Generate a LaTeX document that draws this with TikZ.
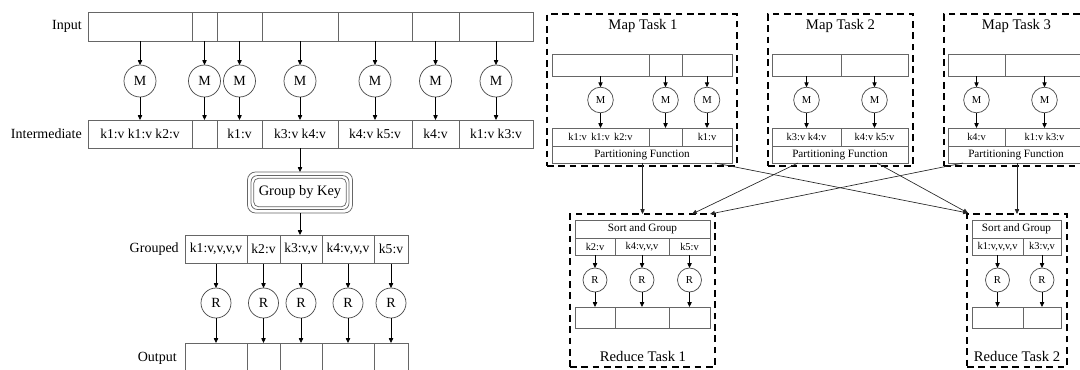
\documentclass[tikz,border=0pt]{standalone}
\usepackage{fontspec}
\setmainfont{Liberation Serif}
\usetikzlibrary{arrows.meta,calc}
\newcommand\fsz[1]{\fontsize{#1}{#1}\selectfont}
\newcommand\mycell[7]{\node[cell,#6,minimum width={(#3-#2)*0.75pt},minimum height={(#5-#4)*0.75pt}] (#1) at ({(#2+#3)/2},{(#4+#5)/2}) {#7};}
\tikzset{
 cell/.style={draw=black!60, line width=0.55pt, inner sep=0pt, outer sep=0pt, anchor=center},
 bigtxt/.style={font=\fsz{10.2}},
 smtxt/.style={font=\fsz{7.8}},
 pftxt/.style={font=\fsz{8.4}},
 circ/.style={circle, draw=black!70, line width=0.55pt, inner sep=0pt, outer sep=0pt},
 arr/.style={-{Triangle[length=3.6pt,width=3.2pt]}, line width=0.6pt, black},
 xarr/.style={-{Triangle[length=3.6pt,width=3.2pt]}, line width=0.5pt, black!85},
 task/.style={draw=black, dash pattern=on 5pt off 3.5pt, line width=1.1pt, fill=none},
 lbl/.style={anchor=east, inner sep=0pt, font=\fsz{10.5}},
 ttl/.style={inner sep=0pt, font=\fsz{11}},
}
\begin{document}
\begin{tikzpicture}[x=0.75pt,y=-0.75pt]
\useasboundingbox (0,0) rectangle (1080,369);
% ---------------- left: overview ----------------
\node[lbl] (linput) at (82,26.5) {Input};
\mycell{in1}{88}{192}{12}{41}{}{}
\mycell{in2}{192}{217}{12}{41}{}{}
\mycell{in3}{217}{262}{12}{41}{}{}
\mycell{in4}{262}{338}{12}{41}{}{}
\mycell{in5}{338}{412}{12}{41}{}{}
\mycell{in6}{412}{459}{12}{41}{}{}
\mycell{in7}{459}{533}{12}{41}{}{}
\node[lbl] (linter) at (82,134) {Intermediate};
\mycell{it1}{88}{192}{120}{148}{bigtxt}{k1:v k1:v k2:v}
\mycell{it2}{192}{217}{120}{148}{bigtxt}{}
\mycell{it3}{217}{262}{120}{148}{bigtxt}{k1:v}
\mycell{it4}{262}{338}{120}{148}{bigtxt}{k3:v k4:v}
\mycell{it5}{338}{412}{120}{148}{bigtxt}{k4:v k5:v}
\mycell{it6}{412}{459}{120}{148}{bigtxt}{k4:v}
\mycell{it7}{459}{533}{120}{148}{bigtxt}{k1:v k3:v}
\foreach \i in {1,...,7}{
  \node[circ, minimum size=24pt, font=\fsz{10.5}] (m\i) at (in\i |- 0,81) {M};
  \draw[arr] (in\i) -- (m\i);
  \draw[arr] (m\i) -- (it\i);
}
\node[draw=black!60, line width=0.55pt, rounded corners=6pt, minimum width=105*0.75pt, minimum height=41*0.75pt, outer sep=0pt, font=\fsz{10.8}] (gk) at (300,192.5) {Group by Key};
\draw[black!60, line width=0.55pt, rounded corners=4.5pt] ($(gk.south west)+(3.6,-3.6)$) rectangle ($(gk.north east)+(-3.6,3.6)$);
\draw[black!60, line width=0.55pt, rounded corners=3.5pt] ($(gk.south west)+(6.3,-6.3)$) rectangle ($(gk.north east)+(-6.3,6.3)$);
\draw[arr] (it4) -- (gk);
\node[lbl] (lgroup) at (179,249.5) {Grouped};
\mycell{g1}{185}{247}{235}{263.5}{bigtxt}{k1:v,v,v,v}
\mycell{g2}{247}{280}{235}{263.5}{bigtxt}{k2:v}
\mycell{g3}{280}{322}{235}{263.5}{bigtxt}{k3:v,v}
\mycell{g4}{322}{374}{235}{263.5}{bigtxt}{k4:v,v,v}
\mycell{g5}{374}{408}{235}{263.5}{bigtxt}{k5:v}
\draw[arr] (gk) -- (gk |- g3.north);
\node[lbl] (lout) at (177,358) {Output};
\mycell{o1}{185}{247}{343}{385}{}{}
\mycell{o2}{247}{280}{343}{385}{}{}
\mycell{o3}{280}{322}{343}{385}{}{}
\mycell{o4}{322}{374}{343}{385}{}{}
\mycell{o5}{374}{408}{343}{385}{}{}
\foreach \i in {1,...,5}{
  \node[circ, minimum size=22.5pt, font=\fsz{10.5}] (r\i) at (g\i |- 0,303) {R};
  \draw[arr] (g\i) -- (r\i);
  \draw[arr] (r\i) -- (o\i);
}
% ---------------- right: distributed ----------------
% Map task 1
\mycell{mt1}{547}{737}{14}{166}{task}{}
\node[ttl] (mt1t) at (643,26) {Map Task 1};
\mycell{a1}{552}{649}{54}{76}{}{}
\mycell{a2}{649}{682}{54}{76}{}{}
\mycell{a3}{682}{732}{54}{76}{}{}
\mycell{b1}{552}{649}{128}{146}{smtxt}{k1:v\ \,k1:v\ \,k2:v}
\mycell{b2}{649}{682}{128}{146}{smtxt}{}
\mycell{b3}{682}{732}{128}{146}{smtxt}{k1:v}
\mycell{pf1}{552}{732}{146}{163}{pftxt}{Partitioning Function}
\foreach \i in {1,2,3}{
  \node[circ, minimum size=19.2pt, font=\fsz{8}] (am\i) at (a\i |- 0,100) {M};
  \draw[arr] (a\i) -- (am\i);
  \draw[arr] (am\i) -- (b\i);
}
% Map task 2
\mycell{mt2}{768}{913}{14}{166}{task}{}
\node[ttl] (mt2t) at (840.5,26) {Map Task 2};
\mycell{c1}{772}{841}{54}{76}{}{}
\mycell{c2}{841}{908}{54}{76}{}{}
\mycell{d1}{772}{841}{128}{146}{smtxt}{k3:v k4:v}
\mycell{d2}{841}{908}{128}{146}{smtxt}{k4:v k5:v}
\mycell{pf2}{772}{908}{146}{163}{pftxt}{Partitioning Function}
\foreach \i in {1,2}{
  \node[circ, minimum size=19.2pt, font=\fsz{8}] (cm\i) at (c\i |- 0,100) {M};
  \draw[arr] (c\i) -- (cm\i);
  \draw[arr] (cm\i) -- (d\i);
}
% Map task 3
\mycell{mt3}{944}{1089}{14}{166}{task}{}
\node[ttl] (mt3t) at (1016.5,26) {Map Task 3};
\mycell{e1}{948}{1005}{54}{76}{}{}
\mycell{e2}{1005}{1084}{54}{76}{}{}
\mycell{f1}{948}{1005}{128}{146}{smtxt}{k4:v}
\mycell{f2}{1005}{1084}{128}{146}{smtxt}{k1:v k3:v}
\mycell{pf3}{948}{1084}{146}{163}{pftxt}{Partitioning Function}
\foreach \i in {1,2}{
  \node[circ, minimum size=19.2pt, font=\fsz{8}] (em\i) at (e\i |- 0,100) {M};
  \draw[arr] (e\i) -- (em\i);
  \draw[arr] (em\i) -- (f\i);
}
% Reduce task 1
\mycell{rt1}{570}{715}{214}{367}{task}{}
\node[ttl] (rt1t) at (643,356.5) {Reduce Task 1};
\mycell{sg1}{575}{710}{220}{238}{pftxt}{Sort and Group}
\mycell{h1}{575}{615}{238}{255}{smtxt}{k2:v}
\mycell{h2}{615}{669}{238}{255}{smtxt}{k4:v,v,v}
\mycell{h3}{669}{710}{238}{255}{smtxt}{k5:v}
\mycell{p1}{575}{615}{307}{328}{}{}
\mycell{p2}{615}{669}{307}{328}{}{}
\mycell{p3}{669}{710}{307}{328}{}{}
\foreach \i in {1,2,3}{
  \node[circ, minimum size=18pt, font=\fsz{8}] (hr\i) at (h\i |- 0,280) {R};
  \draw[arr] (h\i) -- (hr\i);
  \draw[arr] (hr\i) -- (p\i);
}
% Reduce task 2
\mycell{rt2}{967}{1067}{214}{367}{task}{}
\node[ttl] (rt2t) at (1017,356.5) {Reduce Task 2};
\mycell{sg2}{972}{1061}{220}{238}{pftxt}{Sort and Group}
\mycell{k1}{972}{1023}{238}{255}{smtxt}{k1:v,v,v,v}
\mycell{k2}{1023}{1061}{238}{255}{smtxt}{k3:v,v}
\mycell{q1}{972}{1023}{307}{328}{}{}
\mycell{q2}{1023}{1061}{307}{328}{}{}
\foreach \i in {1,2}{
  \node[circ, minimum size=18pt, font=\fsz{8}] (kr\i) at (k\i |- 0,280) {R};
  \draw[arr] (k\i) -- (kr\i);
  \draw[arr] (kr\i) -- (q\i);
}
% shuffle connectors
\draw[xarr] (pf1.south -| rt1.north) -- (rt1.north);
\draw[xarr] ($(pf1.south east)+(-17,0)$) -- ($(rt2.north west)+(1,-1)$);
\draw[xarr] ($(pf2.south west)+(26,0)$) -- ($(rt1.north east)+(-23,0)$);
\draw[xarr] ($(pf2.south west)+(105,0)$) -- ($(rt2.north west)+(1,-1)$);
\draw[xarr] ($(pf3.south west)+(15,0)$) -- ($(rt1.north east)+(-5,0)$);
\draw[xarr] (pf3.south -| rt2.north) -- (rt2.north);
\end{tikzpicture}
\end{document}
